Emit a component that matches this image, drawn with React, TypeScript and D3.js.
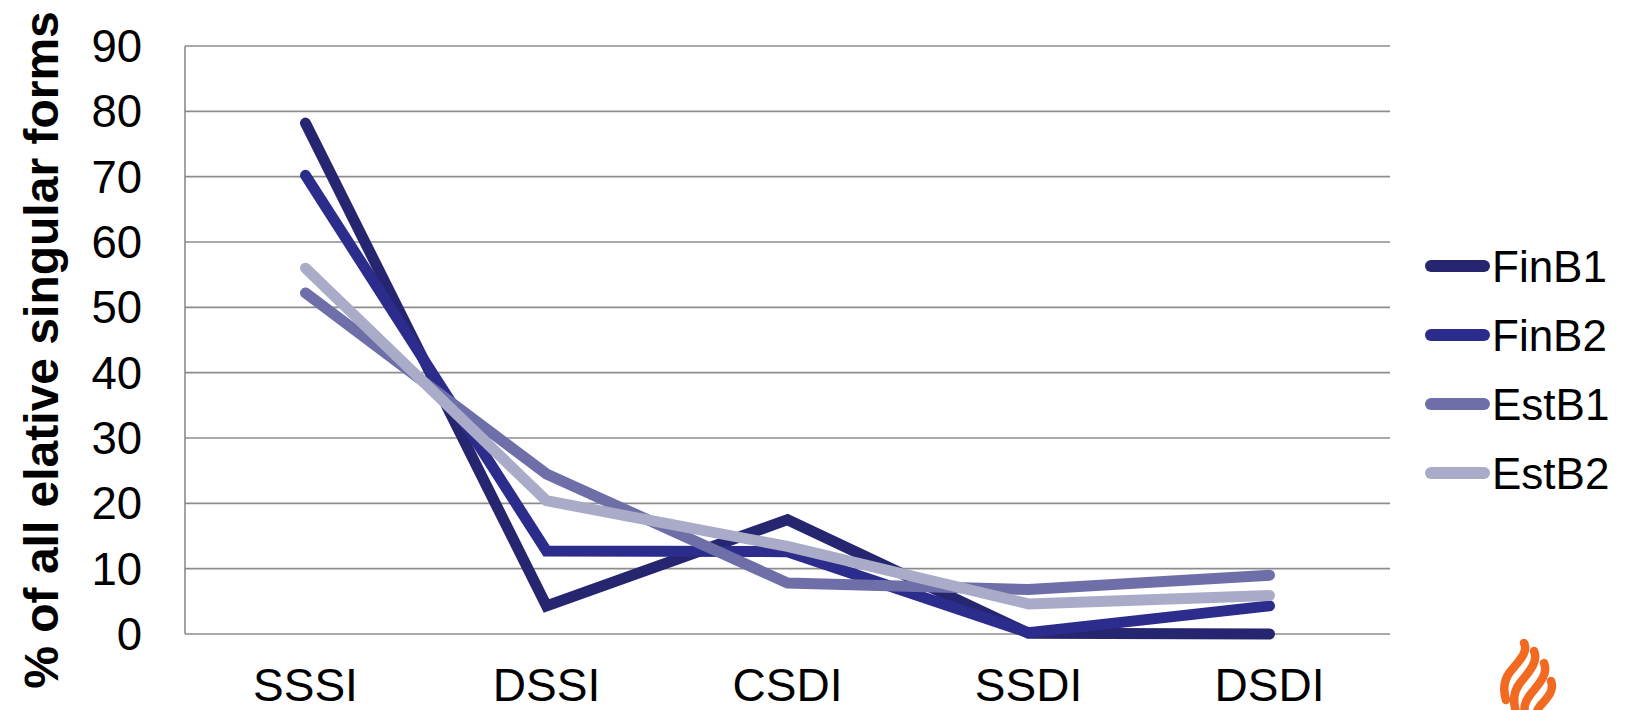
import React from "react";
import * as d3 from "d3";

const categories = ["SSSI", "DSSI", "CSDI", "SSDI", "DSDI"];
const seriesNames = ["FinB1", "FinB2", "EstB1", "EstB2"];
const finB1 = [78.2, 4.3, 17.5, 0.1, 0];
const finB2 = [70.2, 12.7, 12.6, 0.2, 4.3];
const estB1 = [52.2, 24.5, 7.8, 6.8, 9.0];
const estB2 = [56.0, 20.4, 13.4, 4.6, 5.9];
const seriesValues = [finB1, finB2, estB1, estB2];
const colors = ["#25266f", "#2b2c8c", "#6e6fa8", "#aaabc8"];
const yTicks = [0, 10, 20, 30, 40, 50, 60, 70, 80, 90];
const yTitle = "% of all elative singular forms";

const W = 1630;
const H = 710;
const left = 185;
const right = 1390;
const top = 46;
const bottom = 634;

export default function App() {
  const x = d3.scaleBand<string>().domain(categories).range([left, right]);
  const y = d3.scaleLinear().domain([0, 90]).range([bottom, top]);
  const line = d3
    .line<number>()
    .x((_, i) => (x(categories[i]) as number) + x.bandwidth() / 2)
    .y((d) => y(d));
  const font = "'Liberation Sans', Arial, Helvetica, sans-serif";
  const legendY = [266, 335, 404, 473];

  return (
    <svg
      width={W}
      height={H}
      style={{ position: "absolute", left: 0, top: 0, background: "#fff" }}
      fontFamily={font}
    >
      <rect x={0} y={0} width={W} height={H} fill="#fff" />
      {yTicks.map((t) => (
        <line
          key={t}
          x1={left}
          x2={right}
          y1={y(t)}
          y2={y(t)}
          stroke="#8c8c8c"
          strokeWidth={1.6}
        />
      ))}
      <line x1={left} x2={left} y1={top} y2={bottom} stroke="#8c8c8c" strokeWidth={1.6} />
      {yTicks.map((t) => (
        <text
          key={"l" + t}
          x={142}
          y={y(t) + 16}
          textAnchor="end"
          fontSize={45.5}
          fill="#000"
        >
          {t}
        </text>
      ))}
      {categories.map((c) => (
        <text
          key={c}
          x={(x(c) as number) + x.bandwidth() / 2}
          y={701}
          textAnchor="middle"
          fontSize={46}
          fill="#000"
        >
          {c}
        </text>
      ))}
      <text
        transform={`translate(58, ${350}) rotate(-90)`}
        textAnchor="middle"
        fontSize={48}
        fontWeight="bold"
        fill="#000"
      >
        {yTitle}
      </text>
      {seriesValues.map((vals, i) => (
        <path
          key={seriesNames[i]}
          d={line(vals) || ""}
          fill="none"
          stroke={colors[i]}
          strokeWidth={11}
          strokeLinecap="round"
          strokeLinejoin="miter"
          strokeMiterlimit={2}
        />
      ))}
      {seriesNames.map((s, i) => (
        <g key={"lg" + s}>
          <line
            x1={1431}
            x2={1484}
            y1={legendY[i]}
            y2={legendY[i]}
            stroke={colors[i]}
            strokeWidth={12}
            strokeLinecap="round"
          />
          <text x={1492} y={legendY[i] + 16} fontSize={44} fill="#000">
            {s}
          </text>
        </g>
      ))}
      <g fill="none" stroke="#f26a22" strokeWidth={8.5} strokeLinecap="round">
        <path d="M1524,643 C1529,652 1518,662 1510,672 C1503,681 1503,690 1506,700" />
        <path d="M1534,651 C1539,662 1528,673 1520,683 C1513,692 1513,702 1516,712" />
        <path d="M1544,663 C1549,674 1538,685 1530,695 C1524,703 1524,708 1525,714" />
        <path d="M1551,681 C1555,691 1546,699 1540,706 C1537,710 1536,712 1536,716" />
      </g>
    </svg>
  );
}
